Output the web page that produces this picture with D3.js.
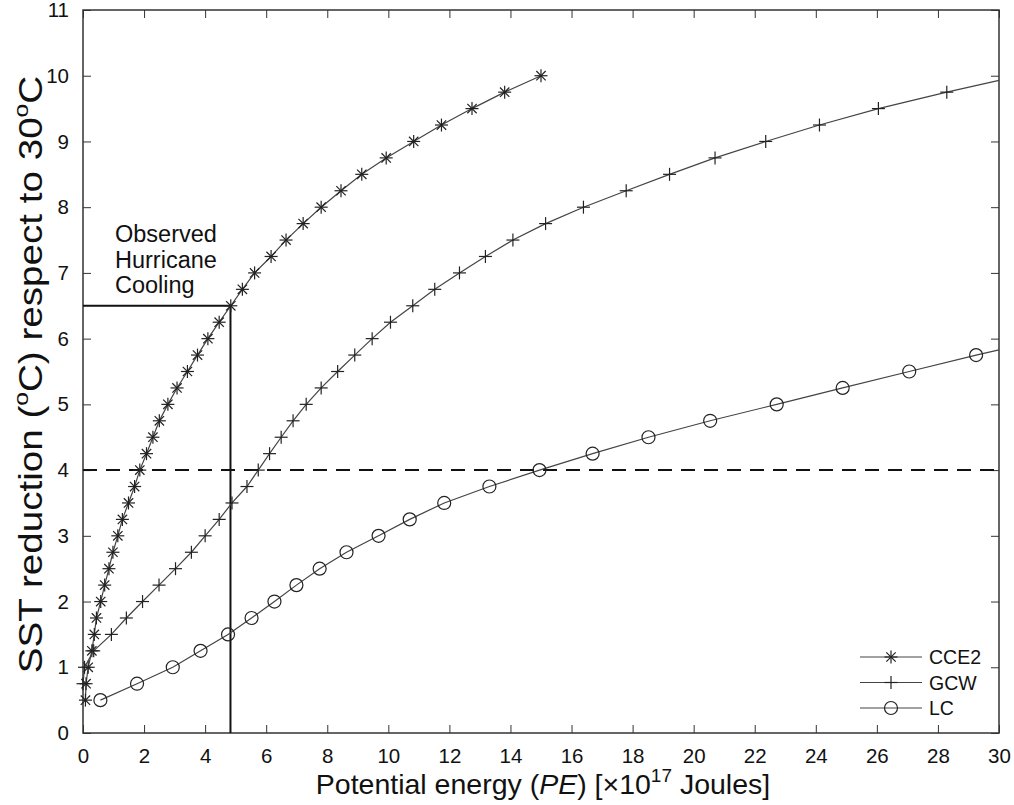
<html>
<head>
<meta charset="utf-8">
<title>SST reduction vs potential energy</title>
<style>
  body { margin: 0; background: #fff; }
  text { font-family: "Liberation Sans", Arial, Helvetica, sans-serif; fill: #111; }
</style>
</head>
<body>
<script src="https://cdn.jsdelivr.net/npm/d3@7"></script>
<script>

// data
var cce2X = [0.08, 0.10, 0.17, 0.29, 0.37, 0.44, 0.58, 0.71, 0.85, 0.98, 1.14, 1.29, 1.49, 1.69, 1.86, 2.08, 2.29, 2.50, 2.78, 3.08,
             3.42, 3.75, 4.09, 4.46, 4.84, 5.22, 5.62, 6.16, 6.65, 7.21, 7.80, 8.45, 9.13, 9.93, 10.83, 11.74, 12.74, 13.81, 15.0];
var cce2Y = [0.5, 0.75, 1, 1.25, 1.5, 1.75, 2, 2.25, 2.5, 2.75, 3, 3.25, 3.5, 3.75, 4, 4.25, 4.5, 4.75, 5, 5.25,
             5.5, 5.75, 6, 6.25, 6.5, 6.75, 7, 7.25, 7.5, 7.75, 8, 8.25, 8.5, 8.75, 9, 9.25, 9.5, 9.75, 10];

var gcwX = [0.0, 0.05, 0.35, 0.93, 1.42, 1.95, 2.49, 3.03, 3.55, 4.0, 4.46, 4.88, 5.37, 5.74, 6.11, 6.49, 6.88, 7.31, 7.80,
            8.34, 8.90, 9.47, 10.07, 10.80, 11.52, 12.33, 13.18, 14.08, 15.15, 16.39, 17.79, 19.21, 20.70, 22.36, 24.12, 26.05, 28.29];
var gcwY = [0.75, 1, 1.25, 1.5, 1.75, 2, 2.25, 2.5, 2.75, 3, 3.25, 3.5, 3.75, 4, 4.25, 4.5, 4.75, 5, 5.25,
            5.5, 5.75, 6, 6.25, 6.5, 6.75, 7, 7.25, 7.5, 7.75, 8, 8.25, 8.5, 8.75, 9, 9.25, 9.5, 9.75];
var gcwEnd = [30, 9.93];   // line continues to the right edge, no marker

var lcX = [0.57, 1.77, 2.94, 3.85, 4.75, 5.52, 6.27, 6.99, 7.75, 8.63, 9.68, 10.70, 11.83, 13.31, 14.95, 16.69, 18.52, 20.54,
           22.72, 24.88, 27.06, 29.25];
var lcY = [0.5, 0.75, 1, 1.25, 1.5, 1.75, 2, 2.25, 2.5, 2.75, 3, 3.25, 3.5, 3.75, 4, 4.25, 4.5, 4.75,
           5, 5.25, 5.5, 5.75];
var lcEnd = [30, 5.83];

var observed = [4.83, 6.5];   // observed hurricane cooling
var threshold = 4;            // dashed line
var xTicks = [0, 2, 4, 6, 8, 10, 12, 14, 16, 18, 20, 22, 24, 26, 28, 30];
var yTicks = [0, 1, 2, 3, 4, 5, 6, 7, 8, 9, 10, 11];
var seriesNames = ["CCE2", "GCW", "LC"];

var margin = {top: 10, right: 15, bottom: 72, left: 83},
    width = 999 - margin.left,
    height = 733 - margin.top;

var x = d3.scaleLinear().domain([0, 30]).range([0, width]);
var y = d3.scaleLinear().domain([0, 11]).range([height, 0]);

var svg = d3.select("body").append("svg")
    .attr("width", 1014)
    .attr("height", 805)
  .append("g")
    .attr("transform", "translate(" + margin.left + "," + margin.top + ")");

function zip(xs, ys) {
  return xs.map(function (v, i) { return [v, ys[i]]; });
}

var series = [
  {name: "CCE2", pts: zip(cce2X, cce2Y), end: null, marker: "star"},
  {name: "GCW", pts: zip(gcwX, gcwY), end: gcwEnd, marker: "plus"},
  {name: "LC", pts: zip(lcX, lcY), end: lcEnd, marker: "circle"}
];

var line = d3.line()
    .x(function (d) { return x(d[0]); })
    .y(function (d) { return y(d[1]); });

// axes with inward ticks, box style
var tickLen = 8;
var axisColor = "#333";

svg.append("g")
    .attr("transform", "translate(0," + height + ")")
    .call(d3.axisBottom(x).tickValues(xTicks).tickSize(-tickLen).tickPadding(tickLen + 7).tickFormat(d3.format("d")))
    .call(function (g) {
      g.select(".domain").remove();
      g.selectAll("line").attr("stroke", axisColor);
      g.selectAll("text").attr("font-size", 20.5).attr("fill", "#111")
        .style("font-family", "Liberation Sans, Arial, sans-serif");
    });

svg.append("g")
    .call(d3.axisTop(x).tickValues(xTicks).tickSize(-tickLen).tickFormat(""))
    .call(function (g) { g.select(".domain").remove(); g.selectAll("line").attr("stroke", axisColor); });

svg.append("g")
    .call(d3.axisLeft(y).tickValues(yTicks).tickSize(-tickLen).tickPadding(tickLen + 6).tickFormat(d3.format("d")))
    .call(function (g) {
      g.select(".domain").remove();
      g.selectAll("line").attr("stroke", axisColor);
      g.selectAll("text").attr("font-size", 20.5).attr("fill", "#111")
        .style("font-family", "Liberation Sans, Arial, sans-serif");
    });

svg.append("g")
    .attr("transform", "translate(" + width + ",0)")
    .call(d3.axisRight(y).tickValues(yTicks).tickSize(-tickLen).tickFormat(""))
    .call(function (g) { g.select(".domain").remove(); g.selectAll("line").attr("stroke", axisColor); });

svg.append("rect")
    .attr("width", width)
    .attr("height", height)
    .attr("fill", "none")
    .attr("stroke", axisColor)
    .attr("stroke-width", 1.5);

// dashed threshold line
svg.append("line")
    .attr("x1", x(0)).attr("x2", x(30))
    .attr("y1", y(threshold)).attr("y2", y(threshold))
    .attr("stroke", "#111")
    .attr("stroke-width", 2)
    .attr("stroke-dasharray", "14,9");

// observed cooling lines
svg.append("path")
    .attr("d", line([[0, observed[1]], observed, [observed[0], 0]]))
    .attr("fill", "none")
    .attr("stroke", "#111")
    .attr("stroke-width", 2);

var ann = svg.append("text")
    .attr("x", 32)
    .attr("y", 232)
    .attr("font-size", 23.5);
["Observed", "Hurricane", "Cooling"].forEach(function (s, i) {
  ann.append("tspan").attr("x", 32).attr("dy", i == 0 ? 0 : 25.5).text(s);
});

// markers
function drawMarker(g, type, cx, cy) {
  if (type == "circle") {
    g.append("circle").attr("cx", cx).attr("cy", cy).attr("r", 6.5)
      .attr("fill", "none").attr("stroke", "#222").attr("stroke-width", 1.2);
  } else {
    var r = 6.5, d = r * 0.72;
    var segs = [[-r, 0, r, 0], [0, -r, 0, r]];
    if (type == "star") segs.push([-d, -d, d, d], [-d, d, d, -d]);
    segs.forEach(function (s) {
      g.append("line")
        .attr("x1", cx + s[0]).attr("y1", cy + s[1])
        .attr("x2", cx + s[2]).attr("y2", cy + s[3])
        .attr("stroke", "#222").attr("stroke-width", 1.2);
    });
  }
}

series.forEach(function (s) {
  var pts = s.end ? s.pts.concat([s.end]) : s.pts;
  svg.append("path")
      .attr("d", line(pts))
      .attr("fill", "none")
      .attr("stroke", "#444")
      .attr("stroke-width", 1.2);
  var g = svg.append("g");
  s.pts.forEach(function (p) { drawMarker(g, s.marker, x(p[0]), y(p[1])); });
});

// legend
var legend = svg.append("g").attr("transform", "translate(" + (860 - margin.left) + "," + (657 - margin.top) + ")");
series.forEach(function (s, i) {
  var row = legend.append("g").attr("transform", "translate(0," + (i * 25.5) + ")");
  row.append("line").attr("x1", 0).attr("x2", 62).attr("y1", 0).attr("y2", 0)
    .attr("stroke", "#444").attr("stroke-width", 1.2);
  drawMarker(row, s.marker, 31, 0);
  row.append("text").attr("x", 69).attr("y", 7).attr("font-size", 19.5).text(seriesNames[i]);
});

// axis titles
var xt = svg.append("text")
    .attr("x", width / 2 + 2)
    .attr("y", height + 61)
    .attr("text-anchor", "middle")
    .attr("font-size", 28.5);
xt.append("tspan").text("Potential energy (");
xt.append("tspan").attr("font-style", "italic").text("PE");
xt.append("tspan").text(") [\u00d710");
xt.append("tspan").attr("font-size", 19).attr("dy", -12).text("17");
xt.append("tspan").attr("dy", 12).text(" Joules]");

var yt = svg.append("text")
    .attr("transform", "translate(-41," + (height / 2 + 3) + ") rotate(-90) scale(1.17,1)")
    .attr("text-anchor", "middle")
    .attr("font-size", 33);
yt.append("tspan").text("SST reduction (");
yt.append("tspan").attr("font-size", 21).attr("dy", -14).text("o");
yt.append("tspan").attr("dy", 14).text("C) respect to 30");
yt.append("tspan").attr("font-size", 21).attr("dy", -14).text("o");
yt.append("tspan").attr("dy", 14).text("C");

</script>
</body>
</html>
